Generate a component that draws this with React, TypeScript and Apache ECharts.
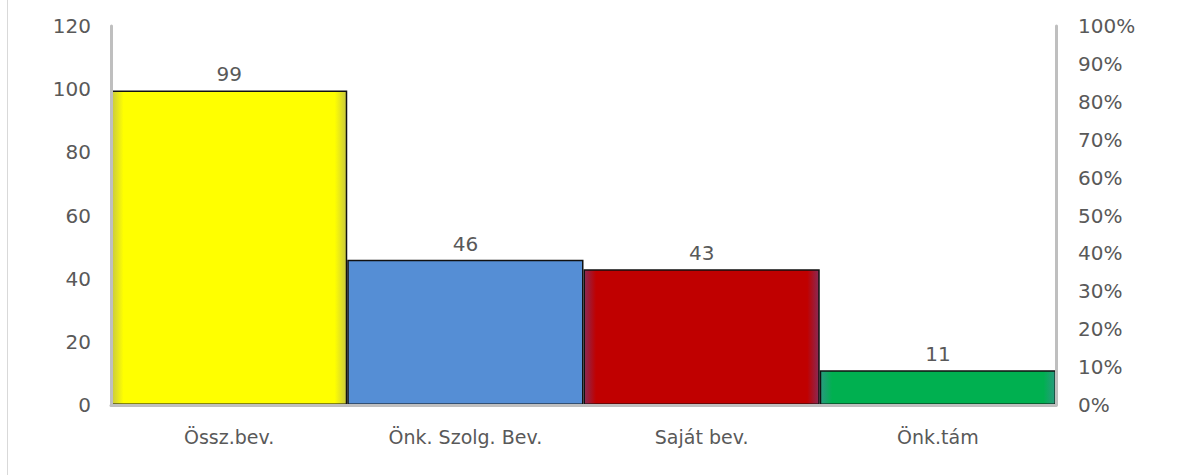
import React, { useEffect, useRef } from "react";
import * as echarts from "echarts";

const categories = ["Össz.bev.", "Önk. Szolg. Bev.", "Saját bev.", "Önk.tám"];
const values = [99.6, 46, 43, 11];
const labels = ["99", "46", "43", "11"];
const colors = ["#ffff00", "#558ed5", "#c00000", "#00b050"];
const edgeColors = ["#c8c840", "#558ed5", "#8a2a55", "#2a9a80"];
const leftTicks = { min: 0, max: 120, interval: 20 };
const rightTicks = { min: 0, max: 1, interval: 0.1 };

const FONT = "DejaVu Sans";
const TXT = "#595959";

export default function App() {
  const ref = useRef<HTMLDivElement>(null);
  useEffect(() => {
    const chart = echarts.init(ref.current!, null, { renderer: "svg" });
    const grad = (i: number) =>
      new echarts.graphic.LinearGradient(0, 0, 1, 0, [
        { offset: 0, color: edgeColors[i] },
        { offset: 0.05, color: colors[i] },
        { offset: 0.95, color: colors[i] },
        { offset: 1, color: edgeColors[i] },
      ]);
    chart.setOption({
      animation: false,
      backgroundColor: "#ffffff",
      grid: { left: 111, right: 122, top: 26, bottom: 70 },
      graphic: [
        {
          type: "line",
          shape: { x1: 7.5, y1: 0, x2: 7.5, y2: 475 },
          style: { stroke: "#d9d9d9", lineWidth: 1 },
        },
      ],
      xAxis: {
        type: "category",
        data: categories,
        z: 5,
        axisLine: { show: true, lineStyle: { color: "#bfbfbf", width: 3 } },
        axisTick: { show: false },
        axisLabel: { color: TXT, fontFamily: FONT, fontSize: 19, margin: 22 },
      },
      yAxis: [
        {
          type: "value",
          ...leftTicks,
          z: 5,
          axisLine: { show: true, lineStyle: { color: "#bfbfbf", width: 3 } },
          axisTick: { show: false },
          splitLine: { show: false },
          axisLabel: { color: TXT, fontFamily: FONT, fontSize: 20, margin: 20 },
        },
        {
          type: "value",
          ...rightTicks,
          position: "right",
          z: 5,
          axisLine: { show: true, lineStyle: { color: "#bfbfbf", width: 3 } },
          axisTick: { show: false },
          splitLine: { show: false },
          axisLabel: {
            color: TXT,
            fontFamily: FONT,
            fontSize: 20,
            margin: 22,
            formatter: (v: number) => Math.round(v * 100) + "%",
          },
        },
      ],
      series: [
        {
          type: "bar",
          yAxisIndex: 0,
          barCategoryGap: "0%",
          data: values.map((v, i) => ({
            value: v,
            itemStyle: { color: grad(i), borderColor: "#111", borderWidth: 1.5 },
          })),
          label: {
            show: true,
            position: "top",
            distance: 6,
            color: TXT,
            fontFamily: FONT,
            fontSize: 20,
            formatter: (p: any) => labels[p.dataIndex],
          },
        },
      ],
    });
    return () => chart.dispose();
  }, []);
  return (
    <div
      ref={ref}
      style={{ position: "fixed", left: 0, top: 0, width: 1178, height: 475 }}
    />
  );
}
